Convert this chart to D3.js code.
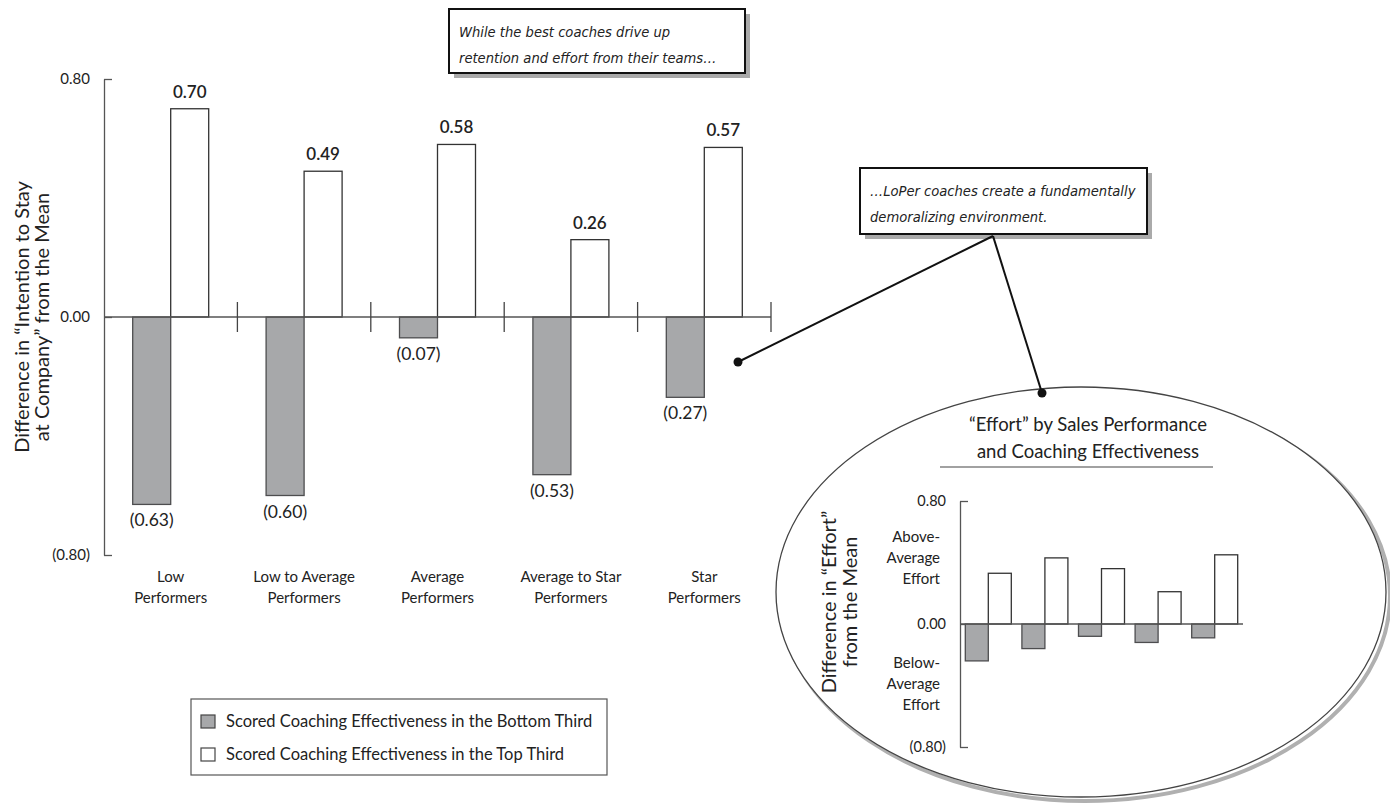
<!DOCTYPE html>
<html>
<head>
<meta charset="utf-8">
<script src="https://cdn.jsdelivr.net/npm/d3@7"></script>
<style>
  body { margin: 0; background: #fff; }
  svg { display: block; }
  text { font-family: Lato, "Open Sans", sans-serif; fill: #222; }
  .callout { font-family: "DejaVu Sans", sans-serif; font-stretch: condensed; font-style: italic; }
</style>
</head>
<body>
<script>
// main chart: intention to stay
let categories = ["Low Performers", "Low to Average Performers", "Average Performers", "Average to Star Performers", "Star Performers"];
let catLines = [["Low", "Performers"], ["Low to Average", "Performers"], ["Average", "Performers"], ["Average to Star", "Performers"], ["Star", "Performers"]];
let series = ["bottom", "top"];
let seriesNames = ["Scored Coaching Effectiveness in the Bottom Third", "Scored Coaching Effectiveness in the Top Third"];
let stayBottom = [-0.63, -0.60, -0.07, -0.53, -0.27];
let stayTop = [0.70, 0.49, 0.58, 0.26, 0.57];
let yTicks = [0.8, 0, -0.8];

// inset: effort
let effortBottom = [-0.24, -0.16, -0.08, -0.12, -0.09];
let effortTop = [0.33, 0.43, 0.36, 0.21, 0.45];

let width = 1390, height = 809;
let fills = { bottom: "#a7a8aa", top: "#fff" };

let fmt = v => v < 0 ? "(" + d3.format(".2f")(-v) + ")" : d3.format(".2f")(v);

let svg = d3.select("body").append("svg")
  .attr("width", width)
  .attr("height", height);

function barChart(g, opts, bottomVals, topVals) {
  let x0 = d3.scaleBand().domain(categories).range([opts.left, opts.right]);
  let x1 = d3.scaleBand().domain(series).range([0, opts.barW * 2]);
  let y = d3.scaleLinear().domain([-0.8, 0.8]).range([opts.bottom, opts.top]);
  let off = (x0.bandwidth() - opts.barW * 2) / 2;

  let rows = categories.map((c, i) => ({ cat: c, i: i, bottom: bottomVals[i], top: topVals[i] }));

  // y axis
  let ax = g.append("g")
    .attr("transform", `translate(${opts.left},0)`)
    .call(d3.axisLeft(y).tickValues(yTicks).tickSizeInner(-8).tickSizeOuter(0).tickPadding(14).tickFormat(fmt));
  ax.select(".domain").attr("stroke", "#555").attr("stroke-width", 1.3);
  ax.selectAll(".tick line").attr("stroke", "#555").attr("stroke-width", 1.3);
  ax.selectAll(".tick text")
    .attr("font-family", "Lato, sans-serif")
    .attr("font-size", opts.tickFont)
    .attr("fill", "#333");

  let grp = g.selectAll("g.grp").data(rows).enter().append("g")
    .attr("transform", d => `translate(${x0(d.cat) + off},0)`);

  grp.selectAll("rect").data(d => series.map(s => ({ s: s, v: d[s] }))).enter().append("rect")
    .attr("x", d => x1(d.s))
    .attr("width", x1.bandwidth())
    .attr("y", d => y(Math.max(0, d.v)))
    .attr("height", d => Math.abs(y(d.v) - y(0)))
    .attr("fill", d => fills[d.s])
    .attr("stroke", d => d.s == "bottom" ? "#4d4d4f" : "#333")
    .attr("stroke-width", 1.3);

  // baseline
  g.append("line")
    .attr("x1", opts.left).attr("x2", opts.right)
    .attr("y1", y(0)).attr("y2", y(0))
    .attr("stroke", "#555").attr("stroke-width", 1.3);

  return { x0: x0, x1: x1, y: y, off: off, rows: rows, grp: grp };
}

// ---------- main chart ----------
let main = svg.append("g");
let m = barChart(main, { left: 104, right: 771, top: 79, bottom: 555, barW: 38, tickFont: "15px" }, stayBottom, stayTop);

// separators crossing the baseline
main.selectAll("line.sep").data(categories).enter().append("line")
  .attr("x1", d => m.x0(d) + m.x0.bandwidth())
  .attr("x2", d => m.x0(d) + m.x0.bandwidth())
  .attr("y1", m.y(0) - 15).attr("y2", m.y(0) + 15)
  .attr("stroke", "#444").attr("stroke-width", 1.3);

// value labels
m.grp.append("text")
  .attr("x", m.x1("top") + m.x1.bandwidth() / 2)
  .attr("y", d => m.y(d.top) - 11)
  .attr("text-anchor", "middle")
  .attr("font-size", "17px")
  .attr("font-weight", 600)
  .text(d => fmt(d.top));

m.grp.append("text")
  .attr("x", m.x1("bottom") + m.x1.bandwidth() / 2)
  .attr("y", d => m.y(d.bottom) + 22)
  .attr("text-anchor", "middle")
  .attr("font-size", "17.5px")
  .text(d => fmt(d.bottom));

// category labels
main.selectAll("text.cat").data(categories).enter().append("text")
  .attr("text-anchor", "middle")
  .attr("font-size", "15px")
  .attr("fill", "#333")
  .each(function (d, i) {
    let cx = m.x0(d) + m.x0.bandwidth() / 2;
    d3.select(this).selectAll("tspan").data(catLines[i]).enter().append("tspan")
      .attr("x", cx)
      .attr("y", (t, j) => 582 + j * 21)
      .text(t => t);
  });

// y title
let yt = main.append("text")
  .attr("transform", `translate(0,${m.y(0)}) rotate(-90)`)
  .attr("text-anchor", "middle")
  .attr("font-size", "20px");
yt.append("tspan").attr("x", 0).attr("y", 29).text("Difference in \u201CIntention to Stay");
yt.append("tspan").attr("x", 0).attr("y", 49).text("at Company\u201D from the Mean");

// legend
let leg = svg.append("g").attr("transform", "translate(191,699)");
leg.append("rect").attr("width", 416).attr("height", 76)
  .attr("fill", "#fff").attr("stroke", "#555").attr("stroke-width", 1.2);
let li = leg.selectAll("g.li").data(series).enter().append("g")
  .attr("transform", (d, i) => `translate(10,${16 + i * 33})`);
li.append("rect").attr("width", 14).attr("height", 13)
  .attr("fill", d => fills[d]).attr("stroke", "#444").attr("stroke-width", 1.2);
li.append("text").attr("x", 25).attr("y", 12)
  .attr("font-size", "16.5px").attr("fill", "#333")
  .text((d, i) => seriesNames[i]);

// ---------- callouts ----------
function callout(x, y, w, h, lines) {
  let c = svg.append("g").attr("transform", `translate(${x},${y})`);
  c.append("rect").attr("x", 5).attr("y", 5).attr("width", w).attr("height", h).attr("fill", "#aaa");
  c.append("rect").attr("width", w).attr("height", h)
    .attr("fill", "#fff").attr("stroke", "#111").attr("stroke-width", 2);
  c.selectAll("text").data(lines).enter().append("text")
    .attr("class", "callout")
    .attr("x", 10).attr("y", (d, i) => 28 + i * 26)
    .attr("font-size", "14.6px").attr("fill", "#222")
    .text(d => d);
}
callout(449, 9, 296, 64, ["While the best coaches drive up", "retention and effort from their teams\u2026"]);

// ---------- inset ellipse ----------
let cx = 1081, cy = 592;
svg.append("ellipse").attr("cx", cx + 4).attr("cy", cy + 4).attr("rx", 305).attr("ry", 205)
  .attr("fill", "none").attr("stroke", "#b0b0b0").attr("stroke-width", 4);
svg.append("ellipse").attr("cx", cx).attr("cy", cy).attr("rx", 305).attr("ry", 205)
  .attr("fill", "#fff").attr("stroke", "#444").attr("stroke-width", 1.3);

let inset = svg.append("g");
let n = barChart(inset, { left: 960, right: 1243, top: 501, bottom: 747, barW: 23, tickFont: "14.5px" }, effortBottom, effortTop);

inset.append("text").attr("text-anchor", "middle").attr("font-size", "18.5px")
  .selectAll("tspan").data(["\u201CEffort\u201D by Sales Performance", "and Coaching Effectiveness"]).enter().append("tspan")
  .attr("x", 1088).attr("y", (d, i) => 431 + i * 27).text(d => d);
inset.append("line").attr("x1", 940).attr("x2", 1213).attr("y1", 467).attr("y2", 467)
  .attr("stroke", "#444").attr("stroke-width", 1.2);

let side = [{ lines: ["Above-", "Average", "Effort"], y0: 542 }, { lines: ["Below-", "Average", "Effort"], y0: 668 }];
side.forEach(s => {
  inset.append("text").attr("text-anchor", "end").attr("font-size", "15px").attr("fill", "#333")
    .selectAll("tspan").data(s.lines).enter().append("tspan")
    .attr("x", 940).attr("y", (d, i) => s.y0 + i * 21).text(d => d);
});

let it = inset.append("text")
  .attr("transform", `translate(0,602) rotate(-90)`)
  .attr("text-anchor", "middle")
  .attr("font-size", "20px");
it.append("tspan").attr("x", 0).attr("y", 836).text("Difference in \u201CEffort\u201D");
it.append("tspan").attr("x", 0).attr("y", 857).text("from the Mean");

callout(860, 168, 287, 66, ["\u2026LoPer coaches create a fundamentally", "demoralizing environment."]);

// ---------- pointer lines ----------
let hub = [993, 236];
let dots = [[738, 362], [1042, 393]];
svg.selectAll("line.ptr").data(dots).enter().append("line")
  .attr("x1", hub[0]).attr("y1", hub[1])
  .attr("x2", d => d[0]).attr("y2", d => d[1])
  .attr("stroke", "#111").attr("stroke-width", 2);
svg.selectAll("circle.dot").data(dots).enter().append("circle")
  .attr("cx", d => d[0]).attr("cy", d => d[1]).attr("r", 4.5).attr("fill", "#111");
</script>
</body>
</html>
